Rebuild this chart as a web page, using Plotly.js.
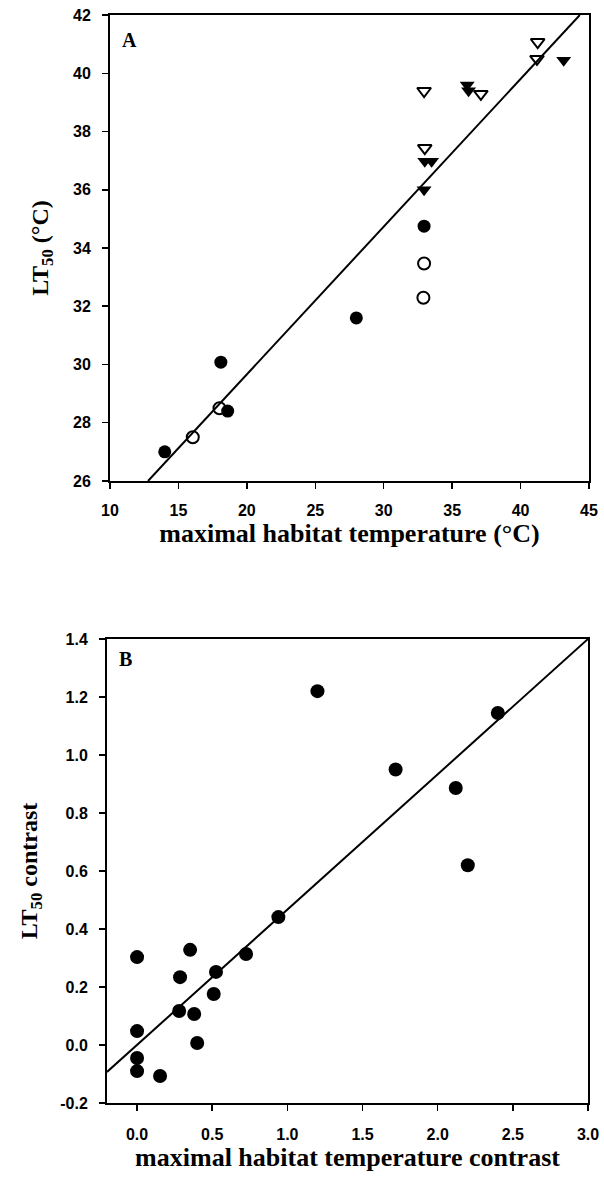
<!DOCTYPE html>
<html>
<head>
<meta charset="utf-8">
<script src="https://cdn.plot.ly/plotly-3.0.1.min.js"></script>
<style>html,body{margin:0;padding:0;background:#fff;}#chart{width:604px;height:1183px;}</style>
</head>
<body>
<div id="chart"></div>
<script>
// Panel A data
const aFilledCircleX = [14.0, 18.1, 18.6, 28.0, 32.95];
const aFilledCircleY = [27.0, 30.08, 28.4, 31.6, 34.75];
const aOpenCircleX = [16.05, 18.0, 32.95, 32.9];
const aOpenCircleY = [27.5, 28.5, 33.47, 32.29];
const aFilledTriX = [32.95, 33.0, 33.5, 36.1, 36.2, 43.15];
const aFilledTriY = [36.0, 36.98, 36.98, 39.6, 39.4, 40.45];
const aOpenTriX = [32.95, 33.0, 37.1, 41.2, 41.25];
const aOpenTriY = [39.39, 37.43, 39.29, 40.49, 41.07];
const aFitX = [12.78, 44.33];
const aFitY = [26, 42];

// Panel B data
const bX = [1.20, 2.40, 1.72, 2.12, 2.20, 0.94, 0.725, 0.353, 0.0, 0.525, 0.286, 0.51, 0.28, 0.38, 0.0, 0.40, 0.0, 0.0, 0.153];
const bY = [1.22, 1.145, 0.95, 0.886, 0.62, 0.441, 0.314, 0.328, 0.303, 0.252, 0.234, 0.176, 0.117, 0.107, 0.048, 0.007, -0.045, -0.09, -0.107];
const bFitX = [-0.2, 3.0];
const bFitY = [-0.093, 1.4];

// Tick labels
const aXTicks = [10, 15, 20, 25, 30, 35, 40, 45];
const aYTicks = [26, 28, 30, 32, 34, 36, 38, 40, 42];
const bXTicks = [0.0, 0.5, 1.0, 1.5, 2.0, 2.5, 3.0];
const bXTickText = ["0.0", "0.5", "1.0", "1.5", "2.0", "2.5", "3.0"];
const bYTicks = [-0.2, 0.0, 0.2, 0.4, 0.6, 0.8, 1.0, 1.2, 1.4];
const bYTickText = ["-0.2", "0.0", "0.2", "0.4", "0.6", "0.8", "1.0", "1.2", "1.4"];

const mk = 13;
const traces = [
  {x: aFitX, y: aFitY, mode: 'lines', line: {color: '#000', width: 2}, xaxis: 'x', yaxis: 'y'},
  {x: aFilledCircleX, y: aFilledCircleY, mode: 'markers', marker: {symbol: 'circle', size: mk, color: '#000'}, xaxis: 'x', yaxis: 'y'},
  {x: aOpenCircleX, y: aOpenCircleY, mode: 'markers', marker: {symbol: 'circle-open', size: mk - 1, color: '#000', line: {width: 2, color: '#000'}}, xaxis: 'x', yaxis: 'y'},
  {x: aFilledTriX, y: aFilledTriY, mode: 'markers', marker: {symbol: 'triangle-down', size: mk, color: '#000'}, xaxis: 'x', yaxis: 'y'},
  {x: aOpenTriX, y: aOpenTriY, mode: 'markers', marker: {symbol: 'triangle-down-open', size: mk - 1, color: '#000', line: {width: 2, color: '#000'}}, xaxis: 'x', yaxis: 'y'},
  {x: bFitX, y: bFitY, mode: 'lines', line: {color: '#000', width: 2}, xaxis: 'x2', yaxis: 'y2'},
  {x: bX, y: bY, mode: 'markers', marker: {symbol: 'circle', size: mk + 1, color: '#000'}, xaxis: 'x2', yaxis: 'y2'}
];

const tickFont = {family: 'Liberation Sans, Arial, sans-serif', size: 16, color: '#000', weight: 'bold'};
const titleFont = {family: 'Liberation Serif, Times New Roman, serif', size: 24, color: '#000', weight: 'bold'};
const xTitleFont = {family: 'Liberation Serif, Times New Roman, serif', size: 26, color: '#000', weight: 'bold'};
const axCommon = {
  showgrid: false, zeroline: false, showline: true, linecolor: '#000', linewidth: 2,
  mirror: true, ticks: 'outside', ticklen: 6, tickwidth: 1.5, tickcolor: '#000',
  tickfont: tickFont, fixedrange: true
};

const layout = {
  width: 604, height: 1183,
  margin: {l: 107, r: 15, t: 15, b: 80},
  paper_bgcolor: '#fff', plot_bgcolor: '#fff',
  showlegend: false,
  xaxis: Object.assign({}, axCommon, {
    domain: [0.0062, 1], range: [10, 45], tickvals: aXTicks, anchor: 'y', ticklabelstandoff: 8,
    title: {text: 'maximal habitat temperature (°C)', font: xTitleFont, standoff: 0}
  }),
  yaxis: Object.assign({}, axCommon, {
    domain: [0.5717, 1], range: [26, 42], tickvals: aYTicks, anchor: 'x', ticklabelstandoff: 8,
    title: {text: 'LT<sub>50</sub> (°C)', font: titleFont, standoff: 18}
  }),
  xaxis2: Object.assign({}, axCommon, {
    domain: [0, 0.998], range: [-0.2, 3.0], tickvals: bXTicks, ticktext: bXTickText, anchor: 'y2', ticklabelstandoff: 10,
    title: {text: 'maximal habitat temperature contrast', font: xTitleFont, standoff: 0}
  }),
  yaxis2: Object.assign({}, axCommon, {
    domain: [0, 0.4265], range: [-0.2, 1.4], tickvals: bYTicks, ticktext: bYTickText, anchor: 'x2', ticklabelstandoff: 8,
    title: {text: 'LT<sub>50</sub> contrast', font: titleFont, standoff: 16}
  }),
  annotations: [
    {text: 'A', xref: 'x domain', yref: 'y domain', x: 0.02, y: 0.975, xanchor: 'left', yanchor: 'top', showarrow: false,
     font: {family: 'Liberation Serif, Times New Roman, serif', size: 20, color: '#000', weight: 'bold'}},
    {text: 'B', xref: 'x2 domain', yref: 'y2 domain', x: 0.02, y: 0.985, xanchor: 'left', yanchor: 'top', showarrow: false,
     font: {family: 'Liberation Serif, Times New Roman, serif', size: 20, color: '#000', weight: 'bold'}}
  ]
};

Plotly.newPlot('chart', traces, layout, {staticPlot: true, displayModeBar: false});
</script>
</body>
</html>
